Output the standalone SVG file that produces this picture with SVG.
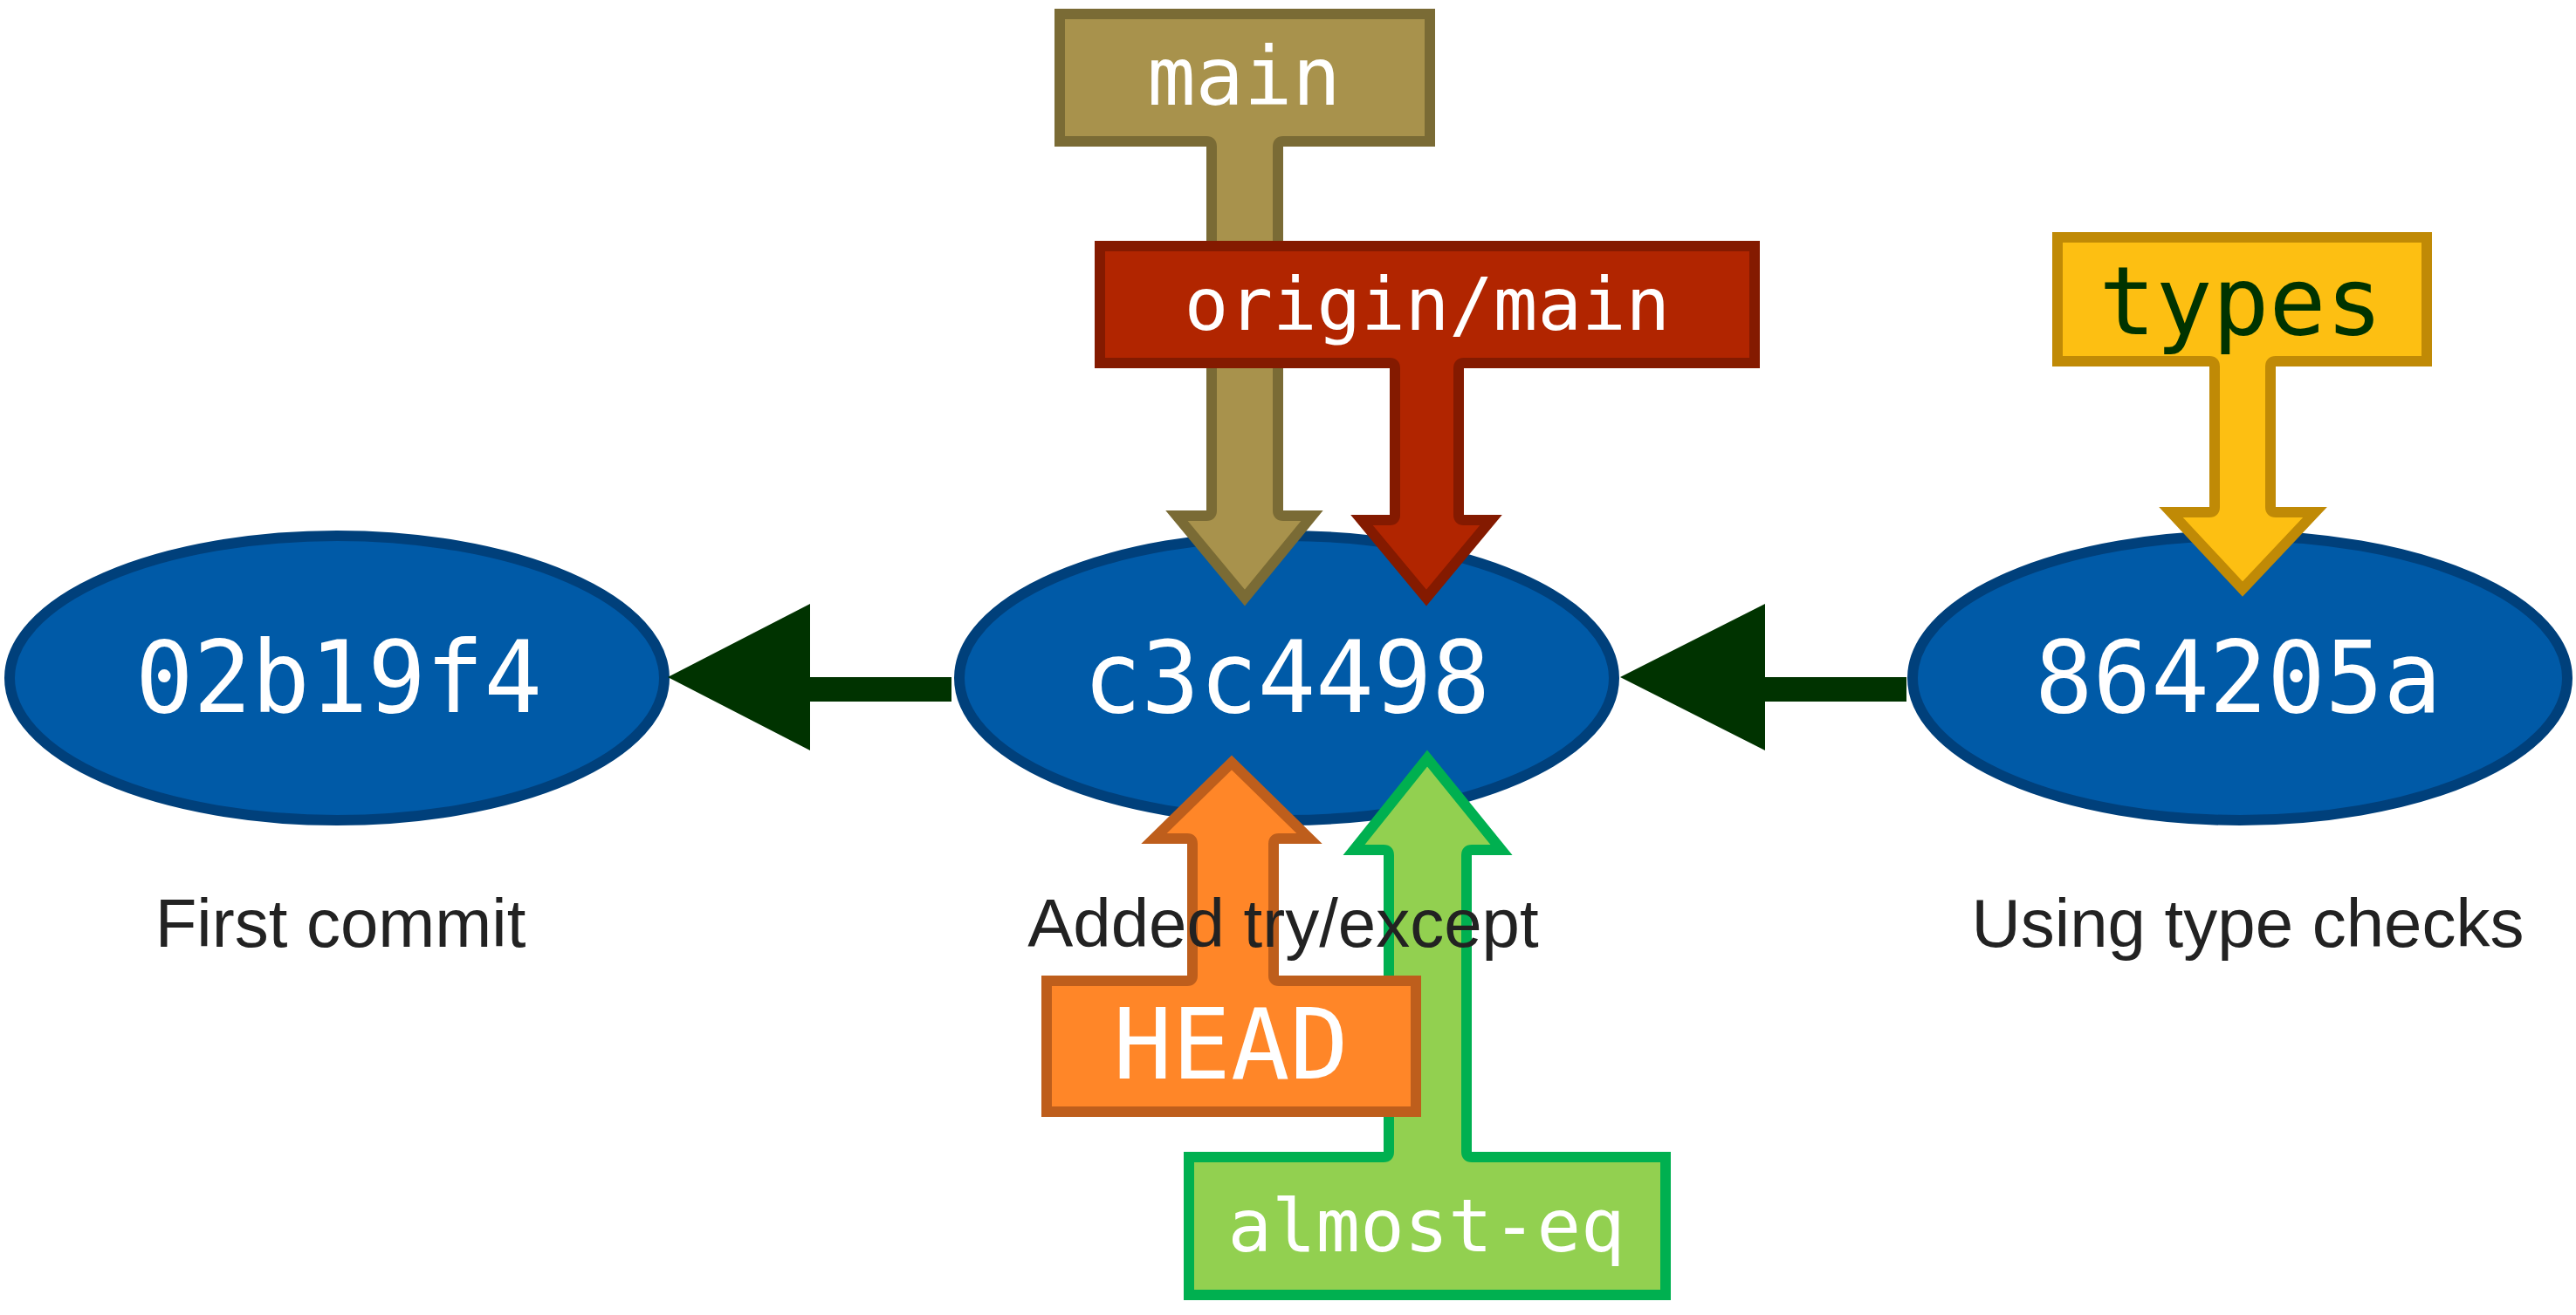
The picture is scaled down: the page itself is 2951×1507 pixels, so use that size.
<svg xmlns="http://www.w3.org/2000/svg" width="2951" height="1507" viewBox="0 0 2951 1507">
<style>
.commit ellipse{fill:#005AA7;stroke:#00407B;stroke-width:12}
.hash{font-family:"DejaVu Sans Mono",monospace;font-size:114px;fill:#ffffff;text-anchor:middle}
.msg{font-family:"Liberation Sans",Arial,sans-serif;font-size:78px;fill:#222222;text-anchor:middle}
.ref path{stroke-width:12;stroke-linejoin:miter}
.reftext{font-family:"DejaVu Sans Mono",monospace;fill:#ffffff;text-anchor:middle}
.conn{fill:#003300}
</style>
<rect width="2951" height="1507" fill="#ffffff"/>
<g id="commit-02b19f4" class="commit">
<ellipse cx="386" cy="777" rx="375" ry="163"/>
<text class="hash" x="388" y="816" textLength="466" lengthAdjust="spacingAndGlyphs">02b19f4</text>
</g>
<g id="commit-c3c4498" class="commit">
<ellipse cx="1474" cy="777" rx="375" ry="163"/>
<text class="hash" x="1474" y="816" textLength="466" lengthAdjust="spacingAndGlyphs">c3c4498</text>
</g>
<g id="commit-864205a" class="commit">
<ellipse cx="2566" cy="777" rx="375" ry="163"/>
<text class="hash" x="2564" y="816" textLength="466" lengthAdjust="spacingAndGlyphs">864205a</text>
</g>
<g id="connectors">
<path class="conn" d="M1090,776 H928 V692 L765,776 L928,860 V804 H1090 Z"/>
<path class="conn" d="M2184,776 H2022 V692 L1856,776 L2022,860 V804 H2184 Z"/>
</g>
<g id="ref-almost-eq" class="ref">
<path fill="#92D050" stroke="#00B050" d="M1362,1484 H1908 V1326 H1686 Q1680,1326 1680,1320 V980 Q1680,974 1686,974 H1720 L1635,869 L1551,974 H1585 Q1591,974 1591,980 V1320 Q1591,1326 1585,1326 H1362 Z"/>
<text class="reftext" x="1634" y="1434" font-size="84">almost-eq</text>
</g>
<g id="ref-HEAD" class="ref">
<path fill="#FF8628" stroke="#BE5E1C" d="M1199,1274 H1622 V1124 H1465 Q1459,1124 1459,1118 V967 Q1459,961 1465,961 H1500 L1411,874 L1322,961 H1360 Q1366,961 1366,967 V1118 Q1366,1124 1360,1124 H1199 Z"/>
<text class="reftext" x="1410" y="1236" font-size="112">HEAD</text>
</g>
<g id="ref-main" class="ref">
<path fill="#A8924C" stroke="#7A6B35" d="M1214,16 H1638 V162 H1470 Q1464,162 1464,168 V585 Q1464,591 1470,591 H1503 L1426,685 L1348,591 H1382 Q1388,591 1388,585 V168 Q1388,162 1382,162 H1214 Z"/>
<text class="reftext" x="1425" y="120" font-size="92">main</text>
</g>
<g id="ref-origin-main" class="ref">
<path fill="#B12500" stroke="#841A00" d="M1260,282 H2010 V416 H1677 Q1671,416 1671,422 V590 Q1671,596 1677,596 H1708 L1634,685 L1560,596 H1592 Q1598,596 1598,590 V422 Q1598,416 1592,416 H1260 Z"/>
<text class="reftext" x="1635" y="378" font-size="84">origin/main</text>
</g>
<g id="ref-types" class="ref">
<path fill="#FDBF12" stroke="#C08A06" d="M2357,272 H2780 V414 H2607 Q2601,414 2601,420 V581 Q2601,587 2607,587 H2652 L2569,675 L2487,587 H2531 Q2537,587 2537,581 V420 Q2537,414 2531,414 H2357 Z"/>
<text class="reftext" x="2567" y="383" font-size="108" style="fill:#003300">types</text>
</g>
<g id="labels">
<text class="msg" x="390" y="1085">First commit</text>
<text class="msg" x="1470" y="1085">Added try/except</text>
<text class="msg" x="2575" y="1085">Using type checks</text>
</g>
</svg>
